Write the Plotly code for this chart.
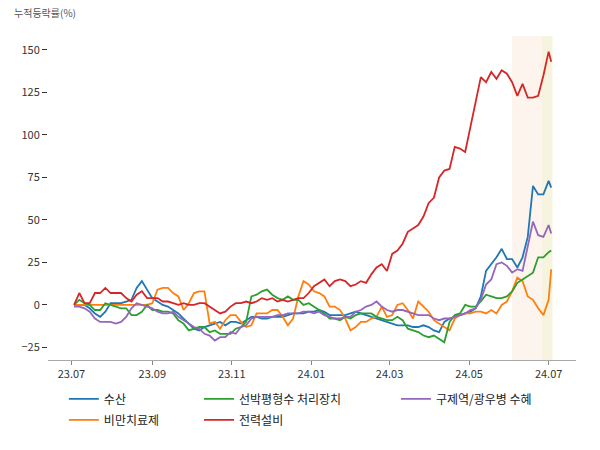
import pandas as pd
import plotly.graph_objects as go

# ---- data (cumulative % change) ----
dates = list(pd.date_range("2023-07-03", periods=92, freq="4D")) + [pd.Timestamp("2024-07-03")]

names = ["수산", "비만치료제", "선박평형수 처리장치", "전력설비", "구제역/광우병 수혜"]
colors = ["#1f77b4", "#ff7f0e", "#2ca02c", "#d62728", "#9467bd"]

susan = [0,0,0,-2,-5,-7,-4,1,1,1, 2,3,10,14,9,4,2,0,-1,-3,
         -5,-8,-11,-14,-15,-13,-12,-11,-10,-12, -10,-10,-11,-9,-7,-7,-8,-8,-7,-7,
         -7,-6,-5,-5,-5,-4,-4,-3,-4,-6, -6,-6,-6,-5,-4,-5,-6,-7,-8,-9,
         -10,-11,-12,-12,-12,-13,-13,-12,-13,-15, -16,-10,-8,-7,-6,-5,-4,-2,5,20,
         24,28,33,27,27,22,28,40,70,65, 65,73,69]
obesity = [0,0,0,0,0,0,0,0,0,0, 0,0,0,0,0,1,9,10,10,7,
           5,-3,1,7,8,8,-11,-10,-14,-9, -6,-6,-10,-13,-12,-5,-5,-5,-3,-3,
           -7,-12,-8,5,14,12,8,7,5,-1, -1,-3,-8,-15,-13,-10,-10,-8,-7,-1,
           -7,-6,0,1,-3,-8,2,-1,-4,-9, -11,-13,-15,-8,-6,-5,-5,-4,-4,-5,
           -3,-5,0,2,8,16,14,5,3,-2, -6,3,21]
ballast = [0,3,1,0,-3,-3,1,0,-1,-2, -2,-6,-6,-4,0,-3,-3,-4,-4,-5,
           -9,-11,-15,-14,-13,-13,-16,-15,-17,-17, -17,-14,-13,-10,5,6,8,9,6,4,
           3,5,3,3,0,1,-1,-3,-5,-8, -8,-9,-7,-8,-6,-5,-5,-5,-7,-8,
           -9,-9,-7,-9,-14,-15,-16,-18,-19,-18, -20,-22,-10,-6,-5,0,-1,-1,2,6,
           5,4,4,5,8,13,15,17,19,28, 28,31,32]
power = [0,7,1,1,7,7,10,7,7,7, 4,2,6,8,4,4,4,2,2,1,
         0,1,0,0,1,1,-1,-3,-5,-4, -1,1,1,2,1,2,4,3,4,2,
         3,2,3,4,4,7,11,13,15,11, 14,15,14,11,12,14,13,18,22,24,
         20,30,32,36,43,45,47,52,60,63, 75,79,80,93,92,90,104,120,134,131,
         137,133,138,136,131,123,130,122,122,123, 135,149,143]
fmd = [-1,-1,-2,-4,-8,-10,-10,-10,-11,-10, -7,-2,1,0,-1,-2,-4,-5,-5,-4,
       -7,-9,-11,-13,-14,-17,-18,-21,-19,-19, -16,-17,-13,-12,-8,-7,-7,-7,-7,-6,
       -6,-5,-5,-5,-4,-4,-5,-4,-6,-7, -8,-8,-7,-7,-4,-3,-1,0,2,-1,
       -3,-4,-3,-3,-4,-5,-6,-6,-6,-8, -9,-8,-8,-7,-6,-5,-3,-2,3,12,
       15,24,25,23,19,21,20,34,49,41, 40,47,42]

series = [susan, obesity, ballast, power, fmd]

y_ticks = [-25, 0, 25, 50, 75, 100, 125, 150]
span1 = ("2024-06-03", "2024-06-26")
span2 = ("2024-06-26", "2024-07-04")

FONT = "Noto Sans CJK KR"

# one legend per entry, laid out in 3 columns x 2 rows (column-major order)
legend_ids = ["legend", "legend2", "legend3", "legend4", "legend5"]
legend_pos = {
    "legend": (0.030, -0.120),
    "legend2": (0.030, -0.185),
    "legend3": (0.286, -0.120),
    "legend4": (0.286, -0.185),
    "legend5": (0.659, -0.120),
}

fig = go.Figure()
for name, col, vals, lg in zip(names, colors, series, legend_ids):
    fig.add_trace(go.Scatter(x=dates, y=vals, mode="lines", name=name,
                             line=dict(color=col, width=1.8), legend=lg))

fig.add_vrect(x0=span1[0], x1=span1[1], fillcolor="#fcf4ed", line_width=0, layer="below")
fig.add_vrect(x0=span2[0], x1=span2[1], fillcolor="#f6f3de", line_width=0, layer="below")

layout_legends = {}
for lg, (lx, ly) in legend_pos.items():
    layout_legends[lg] = dict(x=lx, y=ly, xanchor="left", yanchor="middle",
                              bgcolor="rgba(0,0,0,0)", font=dict(family=FONT, size=12, color="#222"),
                              itemwidth=30)

fig.update_layout(
    width=600, height=450,
    margin=dict(l=48, r=24, t=36, b=90),
    paper_bgcolor="white", plot_bgcolor="white",
    font=dict(family=FONT, size=11, color="#333"),
    showlegend=True,
    **layout_legends,
    xaxis=dict(type="date", range=["2023-06-13", "2024-07-22"],
               tick0="2023-07-01", dtick="M2", tickformat="%y.%m",
               showline=True, linecolor="#aaaaaa", linewidth=1,
               ticks="outside", ticklen=4, tickcolor="#888888",
               showgrid=False, zeroline=False,
               tickfont=dict(family=FONT, size=11, color="#333")),
    yaxis=dict(range=[-32.4, 158.2], tickvals=y_ticks,
               showline=False, ticks="outside", ticklen=5, tickcolor="#333",
               showgrid=False, zeroline=False,
               tickfont=dict(family=FONT, size=11, color="#333")),
    annotations=[dict(text="누적등락률(%)", xref="paper", yref="paper",
                      x=-0.068, y=1.071, xanchor="left", yanchor="middle",
                      showarrow=False, font=dict(family=FONT, size=10, color="#555"))],
)

fig.write_html("out.html")
